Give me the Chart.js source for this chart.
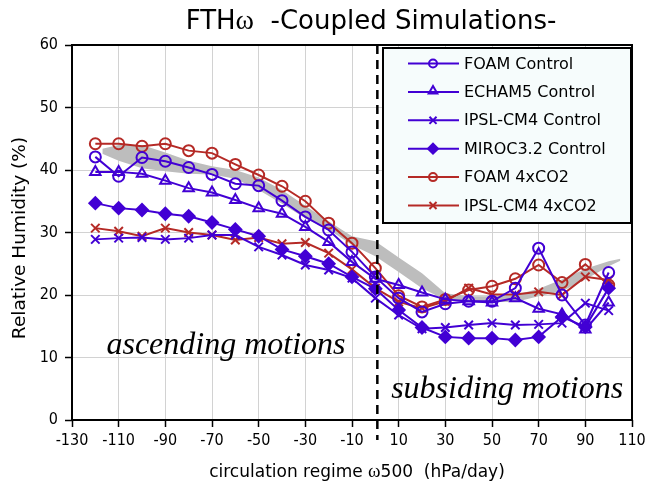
<!DOCTYPE html>
<html>
<head>
<meta charset="utf-8">
<script src="https://cdn.jsdelivr.net/npm/chart.js@4/dist/chart.umd.min.js"></script>
<style>
  html, body { margin: 0; padding: 0; background: #fff; }
  #wrap { width: 647px; height: 495px; }
</style>
</head>
<body>
<div id="wrap"><canvas id="chart" width="647" height="495"></canvas></div>
<script>
const omega = [-120, -110, -100, -90, -80, -70, -60, -50, -40, -30, -20, -10, 0, 10, 20, 30, 40, 50, 60, 70, 80, 90, 100];
const foamCtl = [42.1, 39.0, 42.0, 41.4, 40.4, 39.3, 37.8, 37.5, 35.1, 32.5, 30.4, 26.9, 22.9, 19.5, 17.3, 18.6, 19.0, 19.0, 21.1, 27.5, 20.0, 15.2, 23.6];
const echamCtl = [39.7, 39.7, 39.4, 38.3, 37.1, 36.4, 35.2, 33.9, 33.0, 30.9, 28.5, 25.3, 22.6, 21.6, 20.4, 19.3, 19.0, 18.8, 19.5, 17.8, 16.9, 14.5, 18.8];
const ipslCtl = [28.9, 29.1, 29.2, 28.9, 29.1, 29.6, 29.6, 27.7, 26.4, 24.8, 24.0, 22.7, 19.5, 16.8, 14.6, 14.8, 15.2, 15.5, 15.2, 15.3, 15.5, 18.7, 17.5];
const mirocCtl = [34.7, 33.9, 33.6, 33.0, 32.6, 31.6, 30.5, 29.4, 27.3, 26.2, 25.0, 22.9, 21.0, 17.6, 14.8, 13.3, 13.1, 13.1, 12.8, 13.3, 16.5, 14.9, 21.1];
const foam4x = [44.2, 44.2, 43.8, 44.2, 43.1, 42.7, 40.9, 39.2, 37.4, 35.0, 31.5, 28.3, 24.3, 19.9, 18.1, 19.3, 20.8, 21.4, 22.6, 24.8, 22.0, 24.9, 21.6];
const ipsl4x = [30.7, 30.2, 29.4, 30.7, 30.0, 29.6, 28.8, 29.2, 28.2, 28.4, 26.7, 24.1, 21.1, 18.9, 17.9, 19.0, 21.1, 20.1, 20.1, 20.5, 20.0, 22.9, 22.4];

// grey band (observations spread)
const bandX = [-117, -110, -100, -90, -80, -70, -60, -50, -40, -30, -20, -10, 0, 10, 20, 30, 40, 50, 60, 70, 80, 90, 100, 105];
const bandLow = [42.6, 41.5, 40.3, 39.8, 39.4, 39.3, 38.6, 36.8, 34.6, 32.3, 30.5, 28.0, 26.2, 23.7, 21.1, 19.2, 19.0, 18.9, 18.9, 19.8, 20.6, 22.5, 24.6, 25.5];
const bandHigh = [43.4, 44.0, 44.0, 42.8, 41.5, 40.6, 40.0, 38.8, 36.8, 34.3, 31.8, 29.4, 28.6, 26.0, 23.5, 20.3, 19.8, 19.8, 20.0, 21.0, 22.5, 24.2, 25.4, 25.8];

const xTicks = [-130, -110, -90, -70, -50, -30, -10, 10, 30, 50, 70, 90, 110];
const yTicks = [0, 10, 20, 30, 40, 50, 60];

const BLUE = '#4200d4';
const RED = '#b52a26';
const SANS = "'DejaVu Sans', sans-serif";
const TICKFONT = "'DejaVu Sans Condensed', 'DejaVu Sans', sans-serif";

function pts(xs, ys) {
    return xs.map((x, i) => ({ x: x, y: ys[i] }));
}

function series(label, ys, color, style, filled, radius) {
    return {
        label: label,
        data: pts(omega, ys),
        borderColor: color,
        borderWidth: 2,
        pointStyle: style,
        pointRadius: radius,
        pointBorderWidth: 2,
        pointBorderColor: color,
        pointBackgroundColor: filled ? color : 'rgba(0,0,0,0)',
        fill: false,
        tension: 0,
        order: 1
    };
}

const datasets = [
    series('FOAM Control', foamCtl, BLUE, 'circle', false, 5.5),
    series('ECHAM5 Control', echamCtl, BLUE, 'triangle', false, 6),
    series('IPSL-CM4 Control', ipslCtl, BLUE, 'crossRot', false, 6),
    series('MIROC3.2 Control', mirocCtl, BLUE, 'rectRot', true, 6),
    series('FOAM 4xCO2', foam4x, RED, 'circle', false, 5.5),
    series('IPSL-CM4 4xCO2', ipsl4x, RED, 'crossRot', false, 6),
    {
        label: 'band-low', data: pts(bandX, bandLow), borderWidth: 0, pointRadius: 0,
        borderColor: 'rgba(0,0,0,0)', fill: false, order: 5
    },
    {
        label: 'band-high', data: pts(bandX, bandHigh), borderWidth: 0, pointRadius: 0,
        borderColor: 'rgba(0,0,0,0)', backgroundColor: '#bdbdbd', fill: '-1', order: 5
    }
];

const legendMarker = { circle: 4, triangle: 5, crossRot: 5, rectRot: 5 };

const decor = {
    id: 'decor',
    afterDraw(chart) {
        const ctx = chart.ctx;
        const a = chart.chartArea;
        const xs = chart.scales.x, ys = chart.scales.y;
        ctx.save();

        // frame
        ctx.strokeStyle = '#000';
        ctx.lineWidth = 2;
        ctx.strokeRect(a.left, a.top, a.right - a.left, a.bottom - a.top);

        // dashed divider at omega = 0
        const x0 = xs.getPixelForValue(0) + 2;
        ctx.setLineDash([9, 6]);
        ctx.lineWidth = 2.5;
        ctx.beginPath();
        ctx.moveTo(x0, a.top);
        ctx.lineTo(x0, 440);
        ctx.stroke();
        ctx.setLineDash([]);

        // regime labels
        ctx.fillStyle = '#000';
        ctx.font = "italic 32px 'Liberation Serif', serif";
        ctx.textAlign = 'center';
        ctx.textBaseline = 'alphabetic';
        ctx.fillText('ascending motions', xs.getPixelForValue(-64), ys.getPixelForValue(10.6));
        ctx.fillText('subsiding motions', xs.getPixelForValue(56.5), ys.getPixelForValue(3.5));

        // legend box
        const lx = 383, ly = 48, lw = 248, lh = 175;
        ctx.fillStyle = '#f6fcfc';
        ctx.fillRect(lx, ly, lw, lh);
        ctx.strokeStyle = '#000';
        ctx.lineWidth = 2;
        ctx.strokeRect(lx, ly, lw, lh);
        ctx.font = '16px ' + SANS;
        ctx.textAlign = 'left';
        ctx.textBaseline = 'middle';
        chart.data.datasets.slice(0, 6).forEach((ds, i) => {
            const y = 63.5 + i * 28.4;
            ctx.strokeStyle = ds.borderColor;
            ctx.lineWidth = 2;
            ctx.beginPath();
            ctx.moveTo(408, y);
            ctx.lineTo(459, y);
            ctx.stroke();
            ctx.fillStyle = ds.pointBackgroundColor;
            Chart.helpers.drawPoint(ctx, {
                pointStyle: ds.pointStyle,
                radius: legendMarker[ds.pointStyle],
                borderWidth: 1.8,
                rotation: 0
            }, 433, ds.pointStyle === 'triangle' ? y - 1 : y);
            ctx.fillStyle = '#000';
            ctx.fillText(ds.label, 464, y + 1);
        });

        // title
        ctx.fillStyle = '#000';
        ctx.textBaseline = 'alphabetic';
        ctx.textAlign = 'left';
        const t1 = 'FTH', t2 = '\u03c9', t3 = '  -Coupled Simulations-';
        const fSans = '26px ' + SANS, fSerif = "28px 'Liberation Serif', serif";
        ctx.font = fSans; const w1 = ctx.measureText(t1).width, w3 = ctx.measureText(t3).width;
        ctx.font = fSerif; const w2 = ctx.measureText(t2).width;
        let tx = 371 - (w1 + w2 + w3) / 2;
        const ty = 29;
        ctx.font = fSans; ctx.fillText(t1, tx, ty); tx += w1;
        ctx.font = fSerif; ctx.fillText(t2, tx, ty); tx += w2;
        ctx.font = fSans; ctx.fillText(t3, tx, ty);

        // x axis title
        const s1 = 'circulation regime ', s2 = '\u03c9', s3 = '500  (hPa/day)';
        const fa = '17px ' + SANS, fb = "19px 'Liberation Serif', serif";
        ctx.font = fa; const a1 = ctx.measureText(s1).width, a3 = ctx.measureText(s3).width;
        ctx.font = fb; const a2 = ctx.measureText(s2).width;
        let sx = 357 - (a1 + a2 + a3) / 2;
        const sy = 477;
        ctx.font = fa; ctx.fillText(s1, sx, sy); sx += a1;
        ctx.font = fb; ctx.fillText(s2, sx, sy); sx += a2;
        ctx.font = fa; ctx.fillText(s3, sx, sy);

        // y axis title
        ctx.translate(25, 238);
        ctx.rotate(-Math.PI / 2);
        ctx.textAlign = 'center';
        ctx.font = '18.5px ' + SANS;
        ctx.fillText('Relative Humidity (%)', 0, 0);
        ctx.restore();
    }
};

new Chart(document.getElementById('chart'), {
    type: 'line',
    data: { datasets: datasets },
    options: {
        responsive: false,
        animation: false,
        layout: { padding: { top: 45, right: 0, left: 0, bottom: 0 } },
        plugins: {
            legend: { display: false },
            tooltip: { enabled: false },
            title: { display: false }
        },
        scales: {
            x: {
                type: 'linear',
                min: -130,
                max: 110,
                afterFit: s => { s.height = 75; s.paddingRight = 15; },
                afterBuildTicks: s => { s.ticks = xTicks.map(v => ({ value: v })); },
                grid: { color: '#d2d2d2', lineWidth: 1, tickColor: '#000', tickLength: 7, tickWidth: 1.5 },
                border: { display: false },
                ticks: { color: '#000', font: { size: 16, family: TICKFONT }, padding: 4, maxRotation: 0, autoSkip: false }
            },
            y: {
                min: 0,
                max: 60,
                afterFit: s => { s.width = 72; },
                afterBuildTicks: s => { s.ticks = yTicks.map(v => ({ value: v })); },
                grid: { color: '#d2d2d2', lineWidth: 1, tickColor: '#000', tickLength: 7, tickWidth: 1.5 },
                border: { display: false },
                ticks: { color: '#000', font: { size: 16, family: TICKFONT }, padding: 7 }
            }
        }
    },
    plugins: [decor]
});
</script>
</body>
</html>
